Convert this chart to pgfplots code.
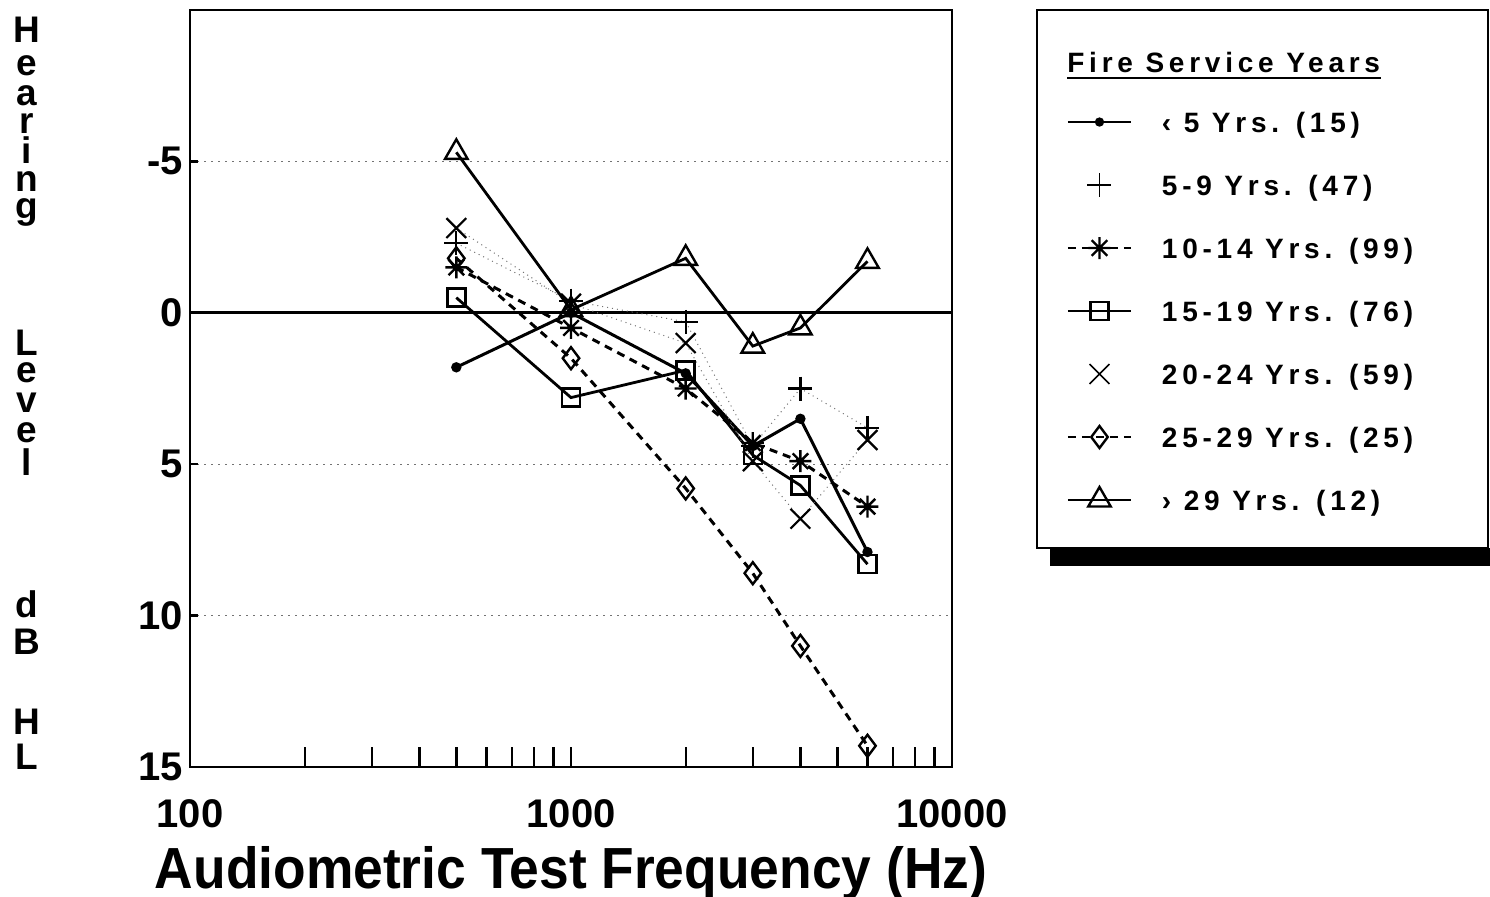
\documentclass[border=0pt]{standalone}
\usepackage{fontspec}
\setmainfont{Liberation Sans}
\newfontfamily\legfont[LetterSpace=17]{Liberation Sans}
\usepackage{graphicx}
\usepackage{pgfplots}
\pgfplotsset{compat=1.18}
\usepackage{pgfplotstable}

% hearing level (dB HL) by test frequency, one column per service group
\pgfplotstableread{
f    s1   s2   s3   s4   s5   s6    s7
500  1.8  -2.3 -1.5 -0.5 -2.8 -1.8  -5.3
1000 0.0  -0.4 0.5  2.8  -0.3 1.5   -0.1
2000 2.0  0.3  2.5  1.9  1.0  5.8   -1.8
3000 4.4  4.4  4.3  4.7  4.9  8.6   1.1
4000 3.5  2.5  4.9  5.7  6.8  11.0  0.5
6000 7.9  3.8  6.4  8.3  4.2  14.3  -1.7
}\hear

\pgfdeclareplotmark{ast8}{%
  \pgfpathmoveto{\pgfqpoint{0pt}{\pgfplotmarksize}}\pgfpathlineto{\pgfqpoint{0pt}{-\pgfplotmarksize}}%
  \pgfpathmoveto{\pgfqpoint{\pgfplotmarksize}{0pt}}\pgfpathlineto{\pgfqpoint{-\pgfplotmarksize}{0pt}}%
  \pgfpathmoveto{\pgfqpoint{.7071\pgfplotmarksize}{.7071\pgfplotmarksize}}\pgfpathlineto{\pgfqpoint{-.7071\pgfplotmarksize}{-.7071\pgfplotmarksize}}%
  \pgfpathmoveto{\pgfqpoint{-.7071\pgfplotmarksize}{.7071\pgfplotmarksize}}\pgfpathlineto{\pgfqpoint{.7071\pgfplotmarksize}{-.7071\pgfplotmarksize}}%
  \pgfusepathqstroke}

\pgfplotsset{
  legline/.style={legend image code/.code={
    \path[draw=none, fill=none] (0pt,-4pt) rectangle (31.5pt,14pt);
    \draw[line width=1pt,mark repeat=2,mark phase=2] plot coordinates {(0pt,5pt) (15.75pt,5pt) (31.5pt,5pt)};}},
  legmark/.style={legend image code/.code={
    \path[draw=none, fill=none] (0pt,-4pt) rectangle (31.5pt,14pt);
    \draw[line width=0.8pt] plot[only marks] coordinates {(15.75pt,5pt)};}},
}

\begin{document}
\begin{tikzpicture}[x=0.5pt,y=-0.5pt]
% legend frame with its shadow (drawn first so the legend sits on top)
\fill (1050,548) rectangle (1490,566);
\draw[line width=1.2pt, fill=white] (1037,10) rectangle (1488,548);

\begin{axis}[
  at={(95pt,-383.5pt)}, anchor=south west,
  scale only axis, width=381pt, height=378.5pt,
  xmode=log, xmin=100, xmax=10000,
  ymin=-10, ymax=15, y dir=reverse,
  xtick={100,1000,10000}, xticklabels={100,1000,10000},
  ytick={-5,0,5,10,15}, yticklabels={-5,0,5,10,15},
  tick align=inside, xtick pos=bottom, ytick pos=left,
  xtick style={line width=1.2pt, black, /pgfplots/major tick length=10pt, /pgfplots/minor tick length=10pt},
  ytick style={line width=1.2pt, black, /pgfplots/major tick length=4pt},
  axis line style={line width=1.4pt},
  ticklabel style={font=\bfseries\fontsize{20}{20}\selectfont},
  xticklabel style={yshift=-12.5pt},
  ymajorgrids, major grid style={line width=0.5pt, dash pattern=on 1pt off 2.5pt, black!55},
  extra y ticks={0}, extra y tick labels={},
  extra y tick style={major grid style={solid, line width=1.5pt, black}},
  legend style={at={(1.1509,0.8758)}, anchor=north west, draw=none, fill=none,
    inner sep=0pt, outer sep=0pt, row sep=13.5pt, column sep=15pt,
    nodes={anchor=base west, inner sep=0pt, font=\legfont\bfseries\fontsize{14}{14}\selectfont}},
]
\addplot[line width=1.5pt, mark=*, mark size=1.8pt, legline] table[x=f,y=s1]{\hear};
\addlegendentry{‹ 5 Yrs. (15)}
\addplot[forget plot, line width=0.5pt, dotted, black!55] table[x=f,y=s2]{\hear};
\addplot[only marks, mark=+, mark size=6pt, line width=1.1pt, legmark] table[x=f,y=s2]{\hear};
\addlegendentry{5-9 Yrs. (47)}
\addplot[line width=1.5pt, dash pattern=on 4pt off 3pt, mark=ast8, mark size=5.5pt, mark options={solid, line width=1.2pt}, legline] table[x=f,y=s3]{\hear};
\addlegendentry{10-14 Yrs. (99)}
\addplot[line width=1.4pt, mark=square, mark size=4.5pt, mark options={line width=1.2pt}, legline] table[x=f,y=s4]{\hear};
\addlegendentry{15-19 Yrs. (76)}
\addplot[forget plot, line width=0.5pt, dotted, black!55] table[x=f,y=s5]{\hear};
\addplot[only marks, mark=x, mark size=7pt, line width=1.1pt, legmark] table[x=f,y=s5]{\hear};
\addlegendentry{20-24 Yrs. (59)}
\addplot[line width=1.5pt, dash pattern=on 4pt off 3pt, mark=diamond, mark size=5.5pt, mark options={solid, line width=1.2pt}, legline] table[x=f,y=s6]{\hear};
\addlegendentry{25-29 Yrs. (25)}
\addplot[line width=1.4pt, mark=triangle, mark size=6.5pt, mark options={line width=1.2pt}, legline] table[x=f,y=s7]{\hear};
\addlegendentry{› 29 Yrs. (12)}
\end{axis}

% y axis title, one letter per line
\foreach \l/\yy in {H/43, e/76, a/106, r/134, i/164, n/192, g/219, L/356, e/383, v/413, e/443, l/476, d/618, B/655, H/735, L/770}
  \node[anchor=base, inner sep=0pt, font=\bfseries\fontsize{18.5}{18.5}\selectfont] at (27,\yy) {\l};

\node[anchor=base, inner sep=0pt, font=\bfseries\fontsize{29}{29}\selectfont] at (571,889)
  {\scalebox{0.92}[1]{Audiometric Test Frequency (Hz)}};

\node (T) [anchor=base west, inner sep=0pt, font=\legfont\bfseries\fontsize{14}{14}\selectfont] at (1067,73) {Fire Service Years};
\draw[line width=1pt] ([yshift=-2.5pt]T.base west) -- ([yshift=-2.5pt]T.base east);

\pgfresetboundingbox
\path[use as bounding box] (0,0) rectangle (1490,897);
\end{tikzpicture}
\end{document}
